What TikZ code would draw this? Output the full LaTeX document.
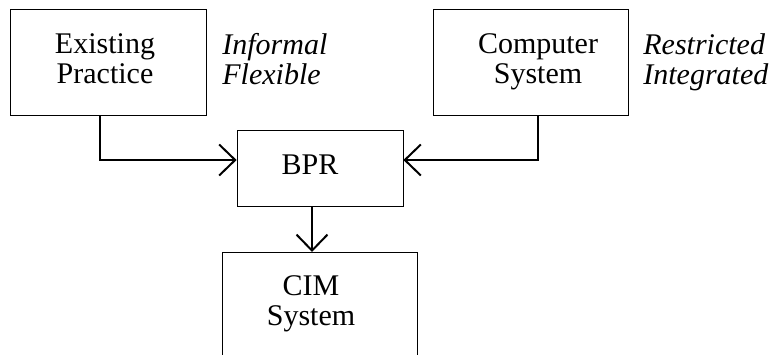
\documentclass[tikz,border=0pt]{standalone}
\usepackage{fontspec}
\setmainfont{Liberation Serif}
\usetikzlibrary{arrows.meta}

\tikzset{every picture/.style={line width=0.75pt}}
\tikzset{
  blockbox/.style={draw, inner sep=0pt},
  blocktext/.style={inner sep=0pt, align=center, font=\fontsize{30}{30}\selectfont,
    execute at end node={\vphantom{y}}},
  sidenote/.style={anchor=west, inner sep=0pt, align=left, font=\fontsize{30}{30}\selectfont\itshape,
    execute at end node={\vphantom{y}}},
  flowline/.style={line width=2pt, -{Straight Barb[length=16pt, width=31pt, line width=2pt]}}
}

\begin{document}
\begin{tikzpicture}[x=1pt,y=1pt,yscale=-1,xscale=1]
		%set diagram left start at 0, and has height of 354
		\useasboundingbox (0,0) rectangle (772,354);
		\clip (0,0) rectangle (772,354);

		%Shape: Rectangle [Existing Practice]
		\node [blockbox, minimum width=196, minimum height=106] (practicebox) at (108,62) {};
		%Shape: Rectangle [Computer System]
		\node [blockbox, minimum width=195, minimum height=106] (computerbox) at (530.5,62) {};
		%Shape: Rectangle [BPR]
		\node [blockbox, minimum width=166, minimum height=76] (bprbox) at (320,168) {};
		%Shape: Rectangle [CIM System], bottom runs off the page
		\node [blockbox, minimum width=195, minimum height=104, anchor=north] (cimbox) at (319.5,252) {};

		% Text Node
		\node [blocktext] (practice) at (105,62) {Existing\\Practice};
		% Text Node
		\node [blocktext] (computer) at (538,62) {Computer\\System};
		% Text Node
		\node [blocktext] (bpr) at (310,168) {BPR};
		% Text Node
		\node [blocktext] (cim) at (311,304) {CIM\\System};
		% Text Node
		\node [sidenote] (informal) at (222,62) {Informal\\Flexible};
		% Text Node
		\node [sidenote] (restricted) at (643,62) {Restricted\\Integrated};

		%Straight Lines
		\draw [flowline] ([xshift=-8pt]practicebox.south) |- ([yshift=-8pt]bprbox.west);
		%Straight Lines
		\draw [flowline] ([xshift=7.5pt]computerbox.south) |- ([yshift=-8pt]bprbox.east);
		%Straight Lines
		\draw [flowline] ([xshift=-8pt]bprbox.south) -- ([xshift=-7.5pt]cimbox.north);
	\end{tikzpicture}
\end{document}
